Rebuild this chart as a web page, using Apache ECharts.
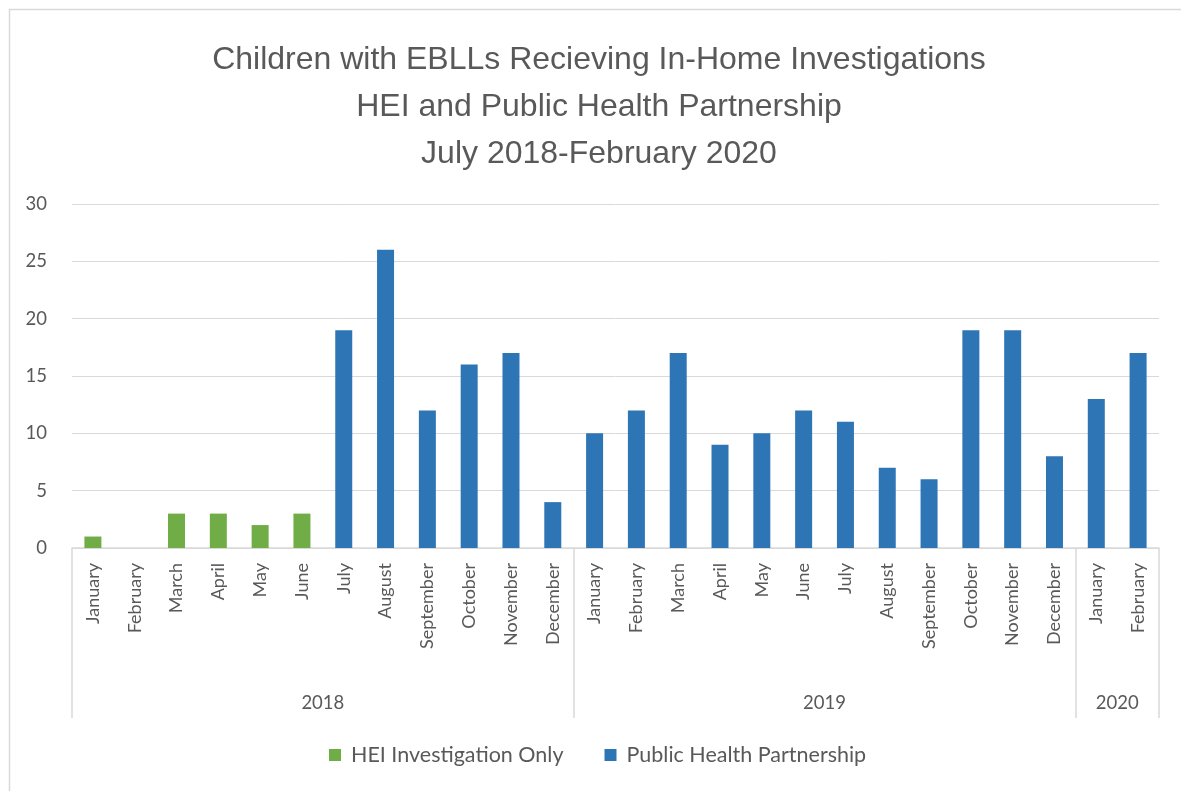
<!DOCTYPE html>
<html>
<head>
<meta charset="utf-8">
<script src="https://cdn.jsdelivr.net/npm/echarts@6/dist/echarts.min.js"></script>
<style>
html,body{margin:0;padding:0;background:#fff;}
#chart{width:1181px;height:791px;}
</style>
</head>
<body>
<div id="chart"></div>
<script>
const months = ["January","February","March","April","May","June","July","August","September","October","November","December",
  "January","February","March","April","May","June","July","August","September","October","November","December",
  "January","February"];
const years = ["2018","2019","2020"];
const yearStarts = [0, 12, 24, 26];
const yearCenters = [6, 18, 25];
const heiOnly = [1,0,3,3,2,3,null,null,null,null,null,null,null,null,null,null,null,null,null,null,null,null,null,null,null,null];
const publicHealth = [null,null,null,null,null,null,19,26,12,16,17,4,10,12,17,9,10,12,11,7,6,19,19,8,13,17];
const yTicks = [0,5,10,15,20,25,30];

const txt = '#595959';
const gridc = '#d9d9d9';
const chart = echarts.init(document.getElementById('chart'));
chart.setOption({
  animation:false,
  graphic:[{type:'rect',left:7,top:7,shape:{width:1200,height:800},style:{fill:'none',stroke:gridc,lineWidth:1.5},z:-1}],
  title:{
    text:'Children with EBLLs Recieving In-Home Investigations\nHEI and Public Health Partnership\nJuly 2018-February 2020',
    left:594, textAlign:'center', top:32,
    textStyle:{fontFamily:'Liberation Sans',fontSize:32,fontWeight:'normal',color:txt,lineHeight:47}
  },
  legend:{
    bottom:20, left:324, itemWidth:12, itemHeight:12, itemGap:41, icon:'rect',
    textStyle:{fontFamily:'Lato',fontSize:21.5,color:txt,padding:[0,0,0,5]},
    data:['HEI Investigation Only','Public Health Partnership']
  },
  grid:{left:72,right:22,top:204,bottom:243},
  xAxis:[{
    type:'category', data:months,
    axisLine:{lineStyle:{color:gridc,width:1.5}},
    axisTick:{show:false},
    axisLabel:{rotate:90,margin:15,fontFamily:'Lato',fontSize:18,color:txt,interval:0}
  },{
    type:'value', min:0, max:26, position:'bottom',
    axisLine:{show:false},
    splitLine:{show:false},
    axisTick:{show:true,length:170,customValues:yearStarts,lineStyle:{color:gridc,width:1.5}},
    axisLabel:{customValues:yearCenters,margin:146,fontFamily:'Lato',fontSize:18.5,color:txt,
      formatter:function(v){return years[yearCenters.indexOf(v)];}}
  }],
  yAxis:{
    type:'value', min:0, max:30, interval:5,
    axisLine:{show:false}, axisTick:{show:false},
    splitLine:{lineStyle:{color:gridc,width:1}},
    axisLabel:{margin:25,fontFamily:'Lato',fontSize:18.5,color:txt,customValues:yTicks}
  },
  series:[
    {name:'HEI Investigation Only',type:'bar',stack:'a',data:heiOnly,barWidth:17,itemStyle:{color:'#70ad47'}},
    {name:'Public Health Partnership',type:'bar',stack:'a',data:publicHealth,barWidth:17,itemStyle:{color:'#2e75b6'}}
  ]
});
</script>
</body>
</html>
